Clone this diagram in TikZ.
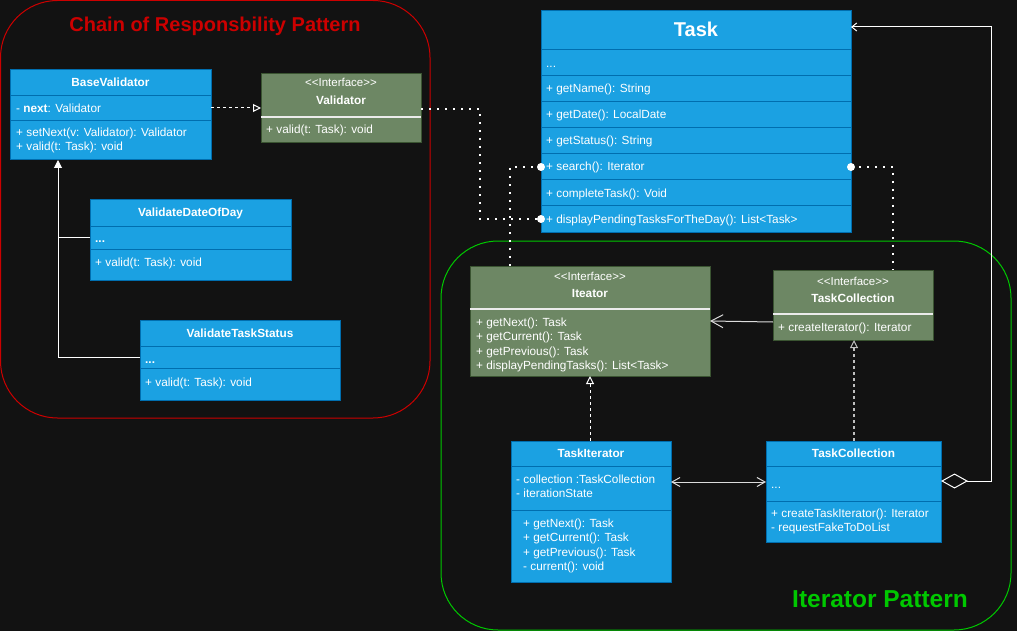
\documentclass[tikz,border=0pt]{standalone}
\usepackage{fontspec}
\setmainfont{Liberation Sans}
\usetikzlibrary{arrows.meta,calc}
\definecolor{bg}{RGB}{18,18,18}
\definecolor{blueF}{RGB}{27,161,226}
\definecolor{blueS}{RGB}{0,110,175}
\definecolor{greenF}{RGB}{109,135,100}
\definecolor{greenS}{RGB}{58,84,49}
\definecolor{redC}{RGB}{204,0,0}
\definecolor{grnC}{RGB}{0,200,0}
\definecolor{sepW}{RGB}{235,235,235}
\definecolor{lineG}{RGB}{220,220,220}
\tikzset{
  cls/.style={draw=blueS, fill=blueF, line width=1pt, anchor=north west, inner sep=0pt, outer sep=0pt},
  ifc/.style={draw=greenS, fill=greenF, line width=1pt, anchor=north west, inner sep=0pt, outer sep=0pt},
  txt/.style={text=white, font=\fontsize{11.8}{14}\selectfont, inner sep=0pt, anchor=west, text height=8.5pt, text depth=2.5pt},
  ttl/.style={text=white, font=\bfseries\fontsize{11.8}{14}\selectfont, inner sep=0pt, text height=8.5pt, text depth=2.5pt},
  stereo/.style={text=white, font=\fontsize{11.5}{13}\selectfont, inner sep=0pt, text height=8pt, text depth=2pt},
  bsep/.style={draw=blueS, line width=1pt},
  gsep/.style={draw=sepW, line width=1.5pt},
  dotline/.style={draw=white, line width=2pt, dash pattern=on 2pt off 6pt},
  realize/.style={draw=white, line width=1pt, dash pattern=on 3pt off 3pt, -{Triangle[length=8pt,width=8pt,fill=bg,line width=1pt]}},
  realizeg/.style={draw=lightgray, line width=1.5pt, dash pattern=on 3pt off 3pt, -{Triangle[length=8pt,width=8pt,fill=bg,line width=1pt]}},
  inherit/.style={draw=white, line width=1pt, -{Triangle[length=8pt,width=8pt,fill=white]}},
  assoc/.style={draw=lineG, line width=1pt, -{Straight Barb[length=12pt,width=13pt,line width=1pt]}},
  biassoc/.style={draw=lineG, line width=1pt, {Straight Barb[length=8pt,width=9pt,line width=1pt]}-{Straight Barb[length=8pt,width=9pt,line width=1pt]}},
  aggr/.style={draw=white, line width=1pt, {Diamond[length=27pt,width=15pt,fill=bg,line width=1pt]}-{Straight Barb[length=5pt,width=8pt,line width=1pt]}},
}
\newcommand\clsep[3]{\draw[#3] ($(#1.north west)+(0,#2)$) -- ($(#1.north east)+(0,#2)$);}
\begin{document}
\begin{tikzpicture}[x=1pt,y=-1pt]
\fill[bg] (0,0) rectangle (1017,631);
\useasboundingbox (0,0) rectangle (1017,631);

% containers
\draw[redC, line width=1pt, rounded corners=57pt] (0.5,0.5) rectangle (430,418);
\node[text=redC, font=\bfseries\fontsize{20}{22}\selectfont, inner sep=0pt] (chainT) at (215,26) {Chain of Responsbility Pattern};
\draw[grnC, line width=1pt, rounded corners=57pt] (441,241) rectangle (1011,630);
\node[text=grnC, font=\bfseries\fontsize{24.5}{28}\selectfont, inner sep=0pt] (iterT) at (880,599) {Iterator Pattern};

% BaseValidator
\node[cls, minimum width=201pt, minimum height=90pt] (bv) at (10,70) {};
\clsep{bv}{26}{bsep}
\clsep{bv}{51}{bsep}
\node[ttl] (bvT) at (110.5,84) {BaseValidator};
\node[txt] (bvA) at (16,110) {- \textbf{next}: Validator};
\node[txt] (bvM1) at (16,134) {+ setNext(v: Validator): Validator};
\node[txt] (bvM2) at (16,148) {+ valid(t: Task): void};

% Validator interface
\node[ifc, minimum width=160pt, minimum height=69pt] (vi) at (261,74) {};
\clsep{vi}{43}{gsep}
\node[stereo] (viS) at (341,84) {<{}<Interface>{}>};
\node[ttl] (viT) at (341,102) {Validator};
\node[txt] (viM) at (266,131) {+ valid(t: Task): void};

% ValidateDateOfDay
\node[cls, minimum width=201pt, minimum height=80pt] (vd) at (90,200) {};
\clsep{vd}{26}{bsep}
\clsep{vd}{49}{bsep}
\node[ttl] (vdT) at (190.5,214) {ValidateDateOfDay};
\node[txt] (vdA) at (95,240) {\textbf{...}};
\node[txt] (vdM) at (95,263) {+ valid(t: Task): void};

% ValidateTaskStatus
\node[cls, minimum width=200pt, minimum height=80pt] (vt) at (140,320) {};
\clsep{vt}{26}{bsep}
\clsep{vt}{48}{bsep}
\node[ttl] (vtT) at (240,334) {ValidateTaskStatus};
\node[txt] (vtA) at (145,360) {\textbf{...}};
\node[txt] (vtM) at (145,383) {+ valid(t: Task): void};

% Task
\node[cls, minimum width=310pt, minimum height=221pt] (task) at (541,11) {};
\foreach \yy in {39,65,91,117,143,169,195} {\clsep{task}{\yy}{bsep}}
\node[text=white, font=\bfseries\fontsize{20}{24}\selectfont, inner sep=0pt] (taskT) at (696,29) {Task};
\node[txt] (taskA) at (546,65) {...};
\node[txt] (taskM1) at (546,90) {+ getName(): String};
\node[txt] (taskM2) at (546,116) {+ getDate(): LocalDate};
\node[txt] (taskM3) at (546,142) {+ getStatus(): String};
\node[txt] (taskM4) at (546,168) {+ search(): Iterator};
\node[txt] (taskM5) at (546,194) {+ completeTask(): Void};
\node[txt] (taskM6) at (546,220) {+ displayPendingTasksForTheDay(): List<Task>};

% Iteator interface
\node[ifc, minimum width=240pt, minimum height=110pt] (it) at (470,266) {};
\clsep{it}{43}{gsep}
\node[stereo] (itS) at (590,277) {<{}<Interface>{}>};
\node[ttl] (itT) at (590,294) {Iteator};
\node[txt] (itM1) at (476,323) {+ getNext(): Task};
\node[txt] (itM2) at (476,337) {+ getCurrent(): Task};
\node[txt] (itM3) at (476,352) {+ getPrevious(): Task};
\node[txt] (itM4) at (476,366) {+ displayPendingTasks(): List<Task>};

% TaskCollection interface
\node[ifc, minimum width=160pt, minimum height=70pt] (tci) at (773,270) {};
\clsep{tci}{44}{gsep}
\node[stereo] (tciS) at (853,282) {<{}<Interface>{}>};
\node[ttl] (tciT) at (853,299) {TaskCollection};
\node[txt] (tciM) at (778,328) {+ createIterator(): Iterator};

% TaskIterator
\node[cls, minimum width=160pt, minimum height=141pt] (ti) at (511,441) {};
\clsep{ti}{25}{bsep}
\clsep{ti}{69}{bsep}
\node[ttl] (tiT) at (591,454) {TaskIterator};
\node[txt] (tiA1) at (516,480) {- collection :TaskCollection};
\node[txt] (tiA2) at (516,494) {- iterationState};
\node[txt] (tiM1) at (523,524) {+ getNext(): Task};
\node[txt] (tiM2) at (523,538) {+ getCurrent(): Task};
\node[txt] (tiM3) at (523,553) {+ getPrevious(): Task};
\node[txt] (tiM4) at (523,567) {- current(): void};

% TaskCollection class
\node[cls, minimum width=175pt, minimum height=101pt] (tc) at (766,441) {};
\clsep{tc}{25}{bsep}
\clsep{tc}{60}{bsep}
\node[ttl] (tcT) at (853.5,454) {TaskCollection};
\node[txt] (tcA) at (771,485) {...};
\node[txt] (tcM1) at (771,514) {+ createTaskIterator(): Iterator};
\node[txt] (tcM2) at (771,528) {- requestFakeToDoList};

% ---- connectors ----
% BaseValidator realizes Validator
\draw[realize] ($(bv.north east)+(0,38)$) -- ($(vi.north west)+(0,34)$);
% inheritance
\coordinate (bvB) at ($(bv.south west)+(48,0)$);
\draw[inherit] ($(vt.north west)+(0,37)$) -| (bvB);
\draw[draw=white, line width=1pt] ($(vd.north west)+(0,37)$) -- ($(vd.north west)+(-32,37)$);

% dotted dependencies to Task
\coordinate (tdp) at ($(task.north west)+(0,208)$);
\coordinate (tsrW) at ($(task.north west)+(0,156)$);
\coordinate (tsrE) at ($(task.north east)+(0,156)$);
\draw[dotline] ($(vi.north east)+(0,35)$) -| ($(tdp)+(-61,0)$) -- (tdp);
\draw[dotline] ($(it.north west)+(40,0)$) |- (tsrW);
\draw[dotline] (tsrE) -| ($(tci.north west)+(120,0)$);
\fill[white] (tdp) circle (4pt);
\fill[white] (tsrW) circle (4pt);
\fill[white] (tsrE) circle (4pt);

% TaskCollection interface -> Iteator
\draw[assoc] ($(tci.north west)+(0,52)$) -- ($(it.north east)+(0,55)$);
% realizations
\draw[realize] ($(ti.north west)+(79,0)$) -- ($(it.south west)+(120,0)$);
\draw[realizeg] ($(tc.north west)+(88,0)$) -- ($(tci.south west)+(81,0)$);
% TaskIterator <-> TaskCollection
\draw[biassoc] ($(ti.north east)+(0,41)$) -- ($(tc.north west)+(0,41)$);
% aggregation
\draw[aggr] ($(tc.north east)+(0,40)$) -- ++(50,0) |- ($(task.north east)+(0,16)$);
\end{tikzpicture}
\end{document}
